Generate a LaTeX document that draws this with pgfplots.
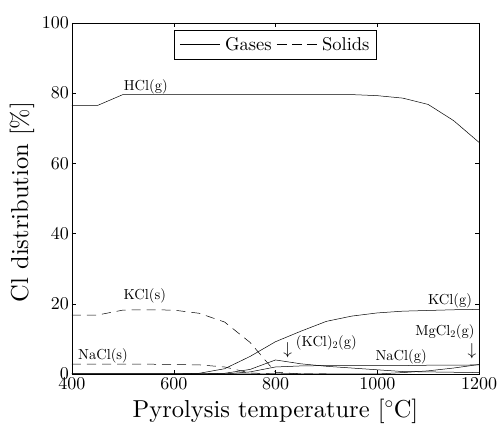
\documentclass[border=0pt]{standalone}
\usepackage{fontspec}
\setmainfont{lmroman10-regular}[Extension=.otf, BoldFont=lmroman10-bold, ItalicFont=lmroman10-italic]
\usepackage{pgfplots}
\pgfplotsset{compat=1.18}
\begin{document}
\begin{tikzpicture}
\begin{axis}[
  at={(0pt,0pt)}, anchor=south west,
  scale only axis, width=407pt, height=351pt,
  xmin=400, xmax=1200, ymin=0, ymax=100,
  xtick={400,600,800,1000,1200}, ytick={0,20,40,60,80,100},
  tick align=inside, major tick length=4pt,
  tick style={black, line width=0.5pt},
  axis line style={line width=0.6pt},
  /pgf/number format/assume math mode=true,
  /pgf/number format/1000 sep={},
  ticklabel style={font=\fontsize{18}{20}\selectfont},
  xticklabel style={inner sep=3pt},
  yticklabel style={inner sep=3pt},
  xlabel={Pyrolysis temperature [$^\circ$C]},
  ylabel={Cl distribution [\%]},
  label style={font=\fontsize{24.5}{28}\selectfont},
  xlabel style={at={(axis description cs:0.5,-0.124)}, anchor=base},
  ylabel style={at={(axis description cs:-0.123,0.49)}, anchor=center},
  cycle list={{black, solid}},
  no markers,
  legend columns=2,
  legend style={at={(axis description cs:0.5,0.98)}, anchor=north,
    font=\fontsize{18.5}{21}\selectfont, draw=black, line width=0.5pt,
    inner xsep=5pt, inner ysep=5pt,
    /tikz/every odd column/.append style={column sep=3pt},
    /tikz/every even column/.append style={column sep=3pt}},
  legend image code/.code={\draw[#1, line width=0.5pt] (0pt,0pt) -- (40pt,0pt);},
  every axis plot post/.append style={black, line width=0.5pt},
  mydash/.style={dash pattern=on 9pt off 6pt},
]
\addlegendimage{black, solid}
\addlegendentry{Gases}
\addlegendimage{black, dash pattern=on 10pt off 5pt}
\addlegendentry{Solids}

% HCl(g)
\addplot coordinates {(400,76.5)(450,76.5)(500,79.6)(550,79.6)(600,79.6)(650,79.6)(700,79.6)(750,79.6)(800,79.6)(850,79.6)(900,79.6)(950,79.6)(1000,79.3)(1050,78.6)(1100,76.8)(1150,72.2)(1200,66.0)};
% KCl(g)
\addplot coordinates {(400,0)(450,0)(500,0)(550,0)(600,0)(650,0.2)(700,1.5)(750,5.0)(800,9.2)(850,12.2)(900,15.0)(950,16.5)(1000,17.4)(1050,17.9)(1100,18.1)(1150,18.3)(1200,18.4)};
% (KCl)2(g)
\addplot coordinates {(400,0)(450,0)(500,0)(550,0)(600,0)(650,0)(700,0.2)(750,1.3)(800,4.0)(850,2.9)(900,2.2)(950,1.7)(1000,1.2)(1050,0.7)(1100,0.6)(1150,0.5)(1200,0.4)};
% NaCl(g)
\addplot coordinates {(400,0)(450,0)(500,0)(550,0)(600,0)(650,0)(700,0)(750,0.6)(800,2.0)(850,2.3)(900,2.4)(950,2.4)(1000,2.4)(1050,2.4)(1100,2.5)(1150,2.5)(1200,2.6)};
% MgCl2(g)
\addplot coordinates {(400,0)(500,0)(600,0)(700,0)(800,0)(900,0)(1000,0)(1050,0.4)(1100,0.9)(1150,1.7)(1200,2.7)};
% KCl(s)
\addplot[mydash] coordinates {(400,16.8)(450,16.8)(500,18.2)(550,18.3)(600,18.2)(650,17.3)(700,14.8)(750,9.0)(800,0.5)(850,0)(900,0)};
% NaCl(s)
\addplot[mydash] coordinates {(400,2.8)(450,2.8)(500,2.8)(550,2.8)(600,2.7)(650,2.6)(700,2.0)(750,0.3)(800,0)(850,0)};

\begin{scope}[every node/.style={font=\fontsize{14.5}{16}\selectfont, inner sep=0pt}]
\node at (axis cs:545,81.8) {HCl(g)};
\node at (axis cs:543,22.2) {KCl(s)};
\node at (axis cs:461,5.1) {NaCl(s)};
\node at (axis cs:1143,20.8) {KCl(g)};
\node at (axis cs:1133,12.0) {MgCl\textsubscript{2}(g)};
\node[font=\fontsize{17}{18}\selectfont] at (axis cs:1186,6.6) {$\downarrow$};
\node[font=\fontsize{18}{20}\selectfont] at (axis cs:824,6.8) {$\downarrow$};
\node at (axis cs:900,8.8) {(KCl)\textsubscript{2}(g)};
\node at (axis cs:1047,4.8) {NaCl(g)};
\end{scope}
\end{axis}
\path[use as bounding box] (-72pt,-49pt) rectangle (430pt,374pt);
\end{tikzpicture}
\end{document}
